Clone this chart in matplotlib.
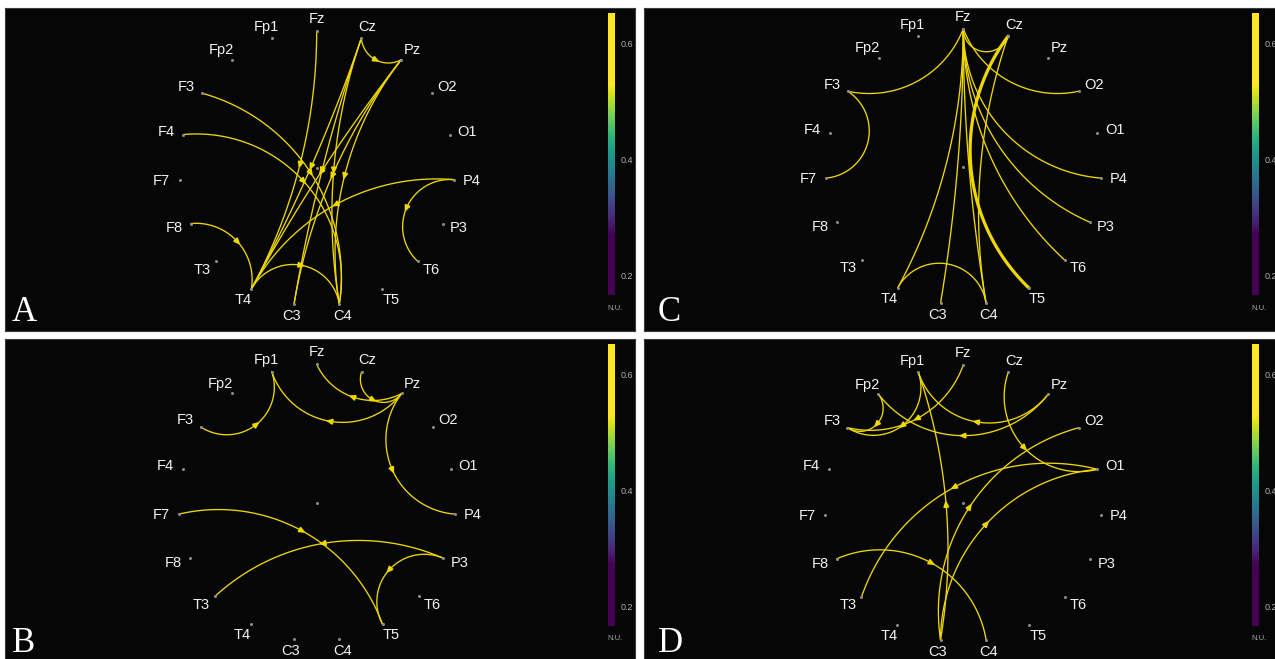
import numpy as np
import matplotlib.pyplot as plt
from matplotlib.patches import Polygon

W, H = 1275, 659

channels = ["Fz", "Cz", "Pz", "O2", "O1", "P4", "P3", "T6", "T5", "C4",
            "C3", "T4", "T3", "F8", "F7", "F4", "F3", "Fp2", "Fp1"]

edges_a = [("Cz", "Pz"), ("Fz", "T4"), ("Cz", "T4"), ("Pz", "T4"), ("Cz", "C3"),
           ("Pz", "C3"), ("Cz", "C4"), ("Pz", "C4"), ("F3", "C4"), ("F4", "C4"),
           ("P4", "T4"), ("P4", "T6"), ("F8", "T4"), ("T4", "C4")]
edges_b = [("F3", "Fp1"), ("Pz", "Fp1"), ("Pz", "Fz"), ("Cz", "Pz"), ("Pz", "P4"),
           ("F7", "T5"), ("P3", "T3"), ("P3", "T5")]
edges_c = [("Fz", "F3"), ("Fz", "O2"), ("Fz", "Cz"), ("Fz", "P4"), ("Fz", "P3"),
           ("Fz", "T6"), ("Fz", "C4"), ("Fz", "C3"), ("Fz", "T4"), ("F3", "F7"),
           ("T4", "C4"), ("Cz", "T5"), ("Cz", "C4")]
edges_d = [("Fp2", "F3"), ("Fp1", "F3"), ("Fz", "F3"), ("Pz", "Fp2"), ("Pz", "Fp1"),
           ("C3", "Fp1"), ("Cz", "O1"), ("O1", "T3"), ("C3", "O2"), ("C3", "O1"),
           ("F8", "C4")]

cbar_ticks = [0.2, 0.4, 0.6]
cbar_range = (0.166, 0.652)
color_limits = (0.27, 0.53)

# letter, edges, arrows?, panel box (left, top, w, h) px, centre in panel px, radius, colorbar x
panels = [
    ("A", edges_a, True, (5, 8, 630, 323), (311.7, 160.3), 137.5, 603),
    ("B", edges_b, True, (5, 339, 630, 320), (311.7, 163.7), 138.4, 603),
    ("C", edges_c, False, (644, 8, 631, 323), (319.3, 158.7), 138.0, 608),
    ("D", edges_d, True, (644, 339, 631, 320), (319.3, 164.3), 138.4, 608),
]

# how far each arc bows in (1 = arc orthogonal to the ring)
bend = {("A", "F3", "C4"): 0.26, ("A", "F4", "C4"): 0.45, ("A", "F8", "T4"): 1.1,
        ("A", "Cz", "Pz"): 1.06,
        ("B", "F7", "T5"): 0.77, ("B", "Pz", "Fz"): 1.13,
        ("C", "Fz", "F3"): 1.18, ("C", "Fz", "O2"): 1.18, ("C", "Cz", "T5"): 0.26,
        ("D", "Fz", "F3"): 1.17, ("D", "O1", "T3"): -1.07, ("D", "C3", "O2"): 0.25,
        ("D", "C3", "O1"): 0.75}
thick = {("C", "Cz", "T5"): 2.3}

line_col = "#efd800"


def node_xy(i, c, r):
    a = np.deg2rad(90 - i * 360 / len(channels))
    return np.array([c[0] + r * np.cos(a), c[1] - r * np.sin(a)]), a


def arc_points(p1, p2, c, r, k, n=121):
    c = np.array(c)
    mid = (p1 + p2) / 2
    m = np.linalg.norm(mid - c)
    u = (mid - c) / m
    w = np.linalg.norm(p2 - p1) / 2
    a = k * r * (r - w) / m
    apex = c + a * u
    t = (a * a - m * m - w * w) / (2 * (a - m))
    o = c + t * u
    R = abs(t - a)
    f1 = np.arctan2(p1[1] - o[1], p1[0] - o[0])
    f2 = np.arctan2(p2[1] - o[1], p2[0] - o[0])
    fa = np.arctan2(apex[1] - o[1], apex[0] - o[0])
    d2 = (f2 - f1) % (2 * np.pi)
    da = (fa - f1) % (2 * np.pi)
    sweep = d2 if da < d2 else d2 - 2 * np.pi
    f = f1 + np.linspace(0, 1, n) * sweep
    return np.column_stack([o[0] + R * np.cos(f), o[1] + R * np.sin(f)])


fig = plt.figure(figsize=(W / 100, H / 100), dpi=100)
fig.patch.set_facecolor("white")

for letter, edges, directed, box, c, r, cbx in panels:
    left, top, w, h = box
    ax = fig.add_axes([left / W, 1 - (top + h) / H, w / W, h / H])
    ax.set_facecolor("#060606")
    ax.set_xlim(0, w)
    ax.set_ylim(h, 0)
    ax.set_xticks([])
    ax.set_yticks([])
    for s in ax.spines.values():
        s.set_color("#3c3c3c")
        s.set_linewidth(0.8)

    pos = {}
    for i, name in enumerate(channels):
        p, ang = node_xy(i, c, r)
        pos[name] = p
        ax.plot(p[0], p[1], "o", ms=2.2, color="#8a8a8a", mec="none", zorder=4)
        lx = c[0] + (r + 18) * np.cos(ang)
        ly = c[1] - (r + 12) * np.sin(ang)
        ax.text(lx, ly, name, color="#f2f2f2", fontsize=10.5, family="Liberation Sans",
                ha="center", va="center", zorder=5)
    ax.plot(c[0], c[1], "o", ms=2.2, color="#8a8a8a", mec="none", zorder=4)

    for src, dst in edges:
        k = bend.get((letter, src, dst), 1.0)
        lw = thick.get((letter, src, dst), 0.95)
        pts = arc_points(pos[src], pos[dst], c, r, k)
        ax.plot(pts[:, 0], pts[:, 1], color=line_col, lw=lw, solid_capstyle="round", zorder=3)
        if directed:
            j = len(pts) // 2
            d = pts[j + 1] - pts[j - 1]
            d = d / np.linalg.norm(d)
            nrm = np.array([-d[1], d[0]])
            tip = pts[j] + 3.0 * d
            b = pts[j] - 2.5 * d
            tri = Polygon([tip, b + 2.4 * nrm, b - 2.4 * nrm], closed=True,
                          color=line_col, zorder=4)
            ax.add_patch(tri)

    ax.text(7 if letter in "AB" else 14, 313, letter, color="white", fontsize=25,
            family="Liberation Serif", ha="left", va="baseline")

    # colour bar
    cax = fig.add_axes([(left + cbx) / W, 1 - (top + 5 + 282) / H, 7 / W, 282 / H])
    grad = np.linspace(cbar_range[0], cbar_range[1], 300).reshape(-1, 1)
    cax.imshow(grad, cmap="viridis", vmin=color_limits[0], vmax=color_limits[1],
               aspect="auto", origin="lower",
               extent=[0, 1, cbar_range[0], cbar_range[1]])
    cax.set_xticks([])
    cax.set_yticks(cbar_ticks)
    cax.set_yticklabels([f"{v:.1f}" for v in cbar_ticks])
    cax.yaxis.tick_right()
    cax.tick_params(axis="y", length=0, pad=4, labelsize=6.5, labelcolor="#b0b0b0")
    for lab in cax.get_yticklabels():
        lab.set_family("Liberation Sans")
    for s in cax.spines.values():
        s.set_visible(False)
    ax.text(cbx + 7, 300, "N.U.", color="#a8a8a8", fontsize=5.5,
            family="Liberation Sans", ha="center", va="center")

fig.savefig("out.png", dpi=100, facecolor="white")
